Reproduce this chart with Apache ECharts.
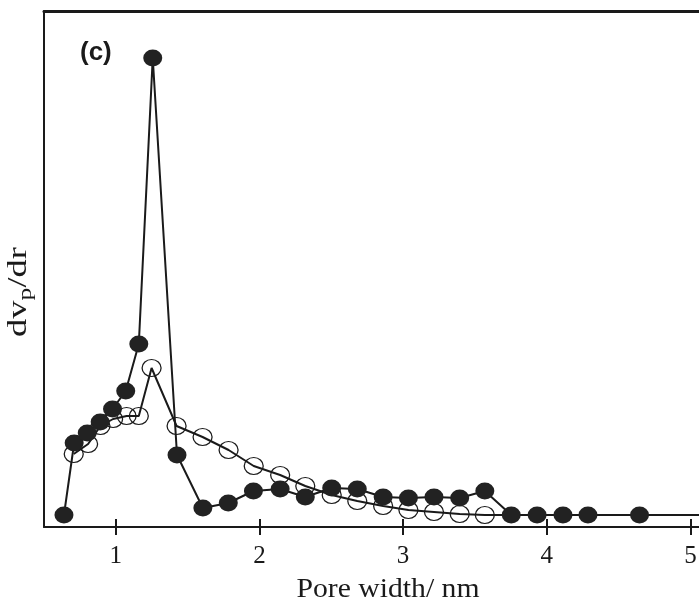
<!DOCTYPE html>
<html>
<head>
<meta charset="utf-8">
<script src="https://cdn.jsdelivr.net/npm/echarts@6/dist/echarts.min.js"></script>
<style>html,body{margin:0;padding:0;background:#fff}#c{width:699px;height:603px}</style>
</head>
<body>
<div id="c"></div>
<script>
// Filled circles series
const filledX = [0.639,0.710,0.801,0.891,0.977,1.069,1.160,1.257,1.426,1.606,1.783,1.958,2.144,2.319,2.503,2.681,2.861,3.037,3.215,3.394,3.569,3.753,3.933,4.113,4.287,4.646];
const filledY = [12,84,94,105,118,136,183,469,72,19,24,36,38,30,39,38,30,29,30,29,36,12,12,12,12,12];
// Open circles series
const openX = [0.707,0.807,0.893,0.981,1.075,1.160,1.249,1.423,1.604,1.785,1.960,2.144,2.319,2.503,2.681,2.861,3.037,3.215,3.394,3.569];
const openY = [73,83,101,108,111,111,159,101,90,77,61,52,41,32,26,21,17,15,13,12];
// Open series trend line continues along baseline to the axis end
const openLineEndX = 5.06;
const openLineEndY = 12;
const xTicks = [1,2,3,4,5];

const serif = 'Liberation Serif';
const chart = echarts.init(document.getElementById('c'), null, {renderer:'canvas'});
const openData = openX.map((x,i)=>[x,openY[i]]);
openData.push({value:[openLineEndX, openLineEndY], symbol:'none'});
const filledData = filledX.map((x,i)=>[x,filledY[i]]);
const ink = '#1a1a1a';
const xCommon = {type:'value', min:0.5, max:5.06, interval:0.5};
chart.setOption({
  animation:false,
  grid:{left:44, right:0, top:11, bottom:76, containLabel:false, outerBoundsMode:'none'},
  xAxis:[
    Object.assign({}, xCommon, {
      position:'bottom',
      axisLine:{show:true, lineStyle:{color:ink, width:2}},
      axisTick:{show:true, inside:false, length:8, lineStyle:{color:ink, width:2}, customValues:xTicks},
      axisLabel:{show:true, color:ink, fontFamily:serif, fontSize:25, margin:17, customValues:xTicks},
      splitLine:{show:false}
    }),
    Object.assign({}, xCommon, {
      position:'bottom',
      axisLine:{show:false},
      axisTick:{show:true, inside:true, length:8, lineStyle:{color:ink, width:2}, customValues:xTicks},
      axisLabel:{show:false}, splitLine:{show:false}
    }),
    Object.assign({}, xCommon, {
      position:'top',
      axisLine:{show:true, lineStyle:{color:ink, width:3}},
      axisTick:{show:false}, axisLabel:{show:false}, splitLine:{show:false}
    })
  ],
  yAxis:{type:'value', min:0, max:516,
    axisLine:{show:true, lineStyle:{color:ink, width:2}},
    axisTick:{show:false}, axisLabel:{show:false}, splitLine:{show:false}},
  graphic:[
    {type:'text', left:80, top:40, style:{text:'(c)', font:'bold 26px "Liberation Sans"', fill:ink}},
    {type:'text', x:388, y:590, scaleX:1.1, style:{text:'Pore width/ nm', fontFamily:serif, fontSize:27, fill:ink,
      align:'center', verticalAlign:'middle'}},
    {type:'text', x:19, y:292, rotation:Math.PI/2, scaleX:1.35, style:{
      text:'{a|dv}{s|p}{a|/dr}', align:'center', verticalAlign:'middle',
      rich:{a:{fontFamily:serif, fontSize:27, fill:ink, lineHeight:34, verticalAlign:'middle'},
            s:{fontFamily:serif, fontSize:19, fill:ink, lineHeight:34, verticalAlign:'bottom'}}
    }}
  ],
  series:[
    {type:'line', data:openData, xAxisIndex:0, symbol:'circle', symbolSize:[19,17],
      itemStyle:{color:'rgba(0,0,0,0)', borderColor:ink, borderWidth:1.2},
      lineStyle:{color:ink, width:2}, z:2},
    {type:'line', data:filledData, xAxisIndex:0, symbol:'circle', symbolSize:[19,17],
      itemStyle:{color:'#222', borderColor:'#222', borderWidth:0},
      lineStyle:{color:ink, width:2}, z:3}
  ]
});
</script>
</body>
</html>
